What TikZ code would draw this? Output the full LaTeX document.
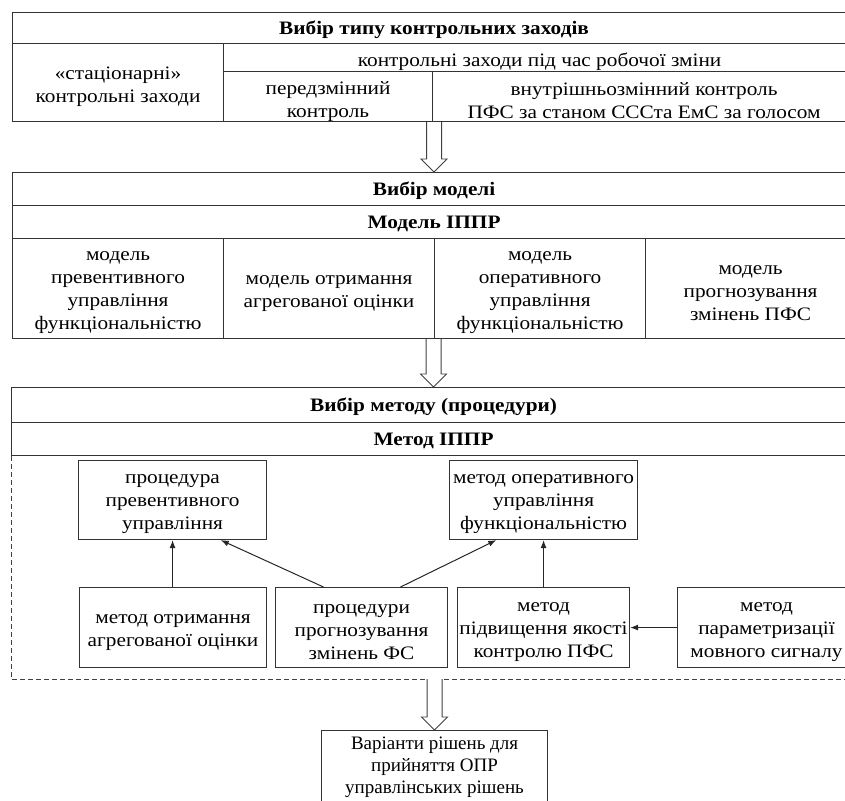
\documentclass[tikz,border=0pt]{standalone}
\usepackage{fontspec}
\setmainfont{Liberation Serif}[FakeStretch=1.12]
\newfontfamily\plainserif{Liberation Serif}
\usetikzlibrary{calc,arrows.meta}

% hollow block arrow pointing down, from the y of #1 to the point #2
\newcommand\hollowdown[2]{%
  \draw[hollowarrow] let \p1=(#1), \p2=(#2) in
    (\x2-7.5pt,\y1) -- (\x2-7.5pt,\y2+13pt) -- (\x2-13pt,\y2+13pt) -- (\x2,\y2)
    -- (\x2+13pt,\y2+13pt) -- (\x2+7.5pt,\y2+13pt) -- (\x2+7.5pt,\y1);}

% framed cell: [text style]{name}{north west corner}{width}{height}{text}
\newcommand\tcell[6][celltext]{%
  \node[cellbox,minimum width=#4,minimum height=#5] (#2) at (#3) {};
  \node[#1] (#2-t) at (#2.center) {#6};}

\begin{document}
\begin{tikzpicture}[x=1pt,y=-1pt,
  cellbox/.style={draw=black!80,line width=1.1pt,anchor=north west,inner sep=0pt},
  celltext/.style={font=\fontsize{19}{23}\selectfont,align=center,inner sep=0pt,yshift=-4.5pt},
  headtext/.style={font=\fontsize{19}{23}\selectfont\bfseries,align=center,inner sep=0pt,yshift=-2pt},
  restext/.style={font=\fontsize{19}{22}\selectfont\plainserif,align=center,inner sep=0pt,yshift=3pt},
  hollowarrow/.style={draw=black!75,line width=0.9pt,fill=white},
  link/.style={draw=black!85,line width=1pt,-{Latex[length=8pt,width=6pt]}},
  frame/.style={draw=black!75,line width=1pt,dash pattern=on 5pt off 3pt}]

\useasboundingbox (0,0) rectangle (845,800);
\clip (0,0) rectangle (845,800);

% --- control measures ---
\tcell[headtext]{ahead}{12,12}{843}{31}{Вибір типу контрольних заходів}
\tcell{aleft}{12,43}{211}{78}{«стаціонарні»\\контрольні заходи}
\tcell{ashift}{223,43}{632}{28}{контрольні заходи під час робочої зміни}
\tcell{apre}{223,71}{209}{50}{передзмінний\\контроль}
\tcell{ain}{432,71}{423}{50}{внутрішньозмінний контроль\\ПФС за станом СССта ЕмС за голосом}
\node[cellbox,draw=none,minimum width=843,minimum height=109] (ta) at (12,12) {};

% --- models ---
\tcell[headtext]{bhead}{12,172}{843}{33}{Вибір моделі}
\tcell[headtext]{bmodel}{12,205}{843}{33}{Модель ІППР}
\tcell{b1}{12,238}{211}{100}{модель\\превентивного\\управління\\функціональністю}
\tcell{b2}{223,238}{211}{100}{модель отримання\\агрегованої оцінки}
\tcell{b3}{434,238}{211}{100}{модель\\оперативного\\управління\\функціональністю}
\tcell{b4}{645,238}{210}{100}{модель\\прогнозування\\змінень ПФС}
\node[cellbox,draw=none,minimum width=843,minimum height=166] (tb) at (12,172) {};

% --- methods ---
\tcell[headtext]{chead}{11,387}{844}{35}{Вибір методу (процедури)}
\tcell[headtext]{cmethod}{11,422}{844}{33}{Метод ІППР}
\coordinate (dbl) at (11,679);
\coordinate (dbr) at (855,679);
\draw[frame] (cmethod.south west) -- (dbl) -- (dbr) -- (dbr |- cmethod.south);

\tcell{p1}{78,460}{188}{79}{процедура\\превентивного\\управління}
\tcell{p2}{449,460}{188}{79}{метод оперативного\\управління\\функціональністю}
\tcell{q1}{79,587}{187}{80}{метод отримання\\агрегованої оцінки}
\tcell{q2}{275,587}{172}{80}{процедури\\прогнозування\\змінень ФС}
\tcell{q3}{457,587}{172}{80}{метод\\підвищення якості\\контролю ПФС}
\tcell{q4}{677,587}{178}{80}{метод\\параметризації\\мовного сигналу}

\draw[link] (q1.north -| p1.south) -- (p1.south);
\draw[link] ($(q2.north west)!0.28!(q2.north east)$) -- ($(p1.south west)!0.755!(p1.south east)$);
\draw[link] ($(q2.north west)!0.725!(q2.north east)$) -- ($(p2.south west)!0.25!(p2.south east)$);
\draw[link] (q3.north) -- (q3.north |- p2.south);
\draw[link] (q4.west) -- (q4.west -| q3.east);

% --- result ---
\tcell[restext]{res}{321,730}{226}{80}{Варіанти рішень для\\прийняття ОПР\\управлінських рішень}

\hollowdown{ta.south}{tb.north}
\hollowdown{tb.south}{chead.north}
\hollowdown{$(dbl)!0.5!(dbr)$}{res.north}
\end{tikzpicture}
\end{document}
